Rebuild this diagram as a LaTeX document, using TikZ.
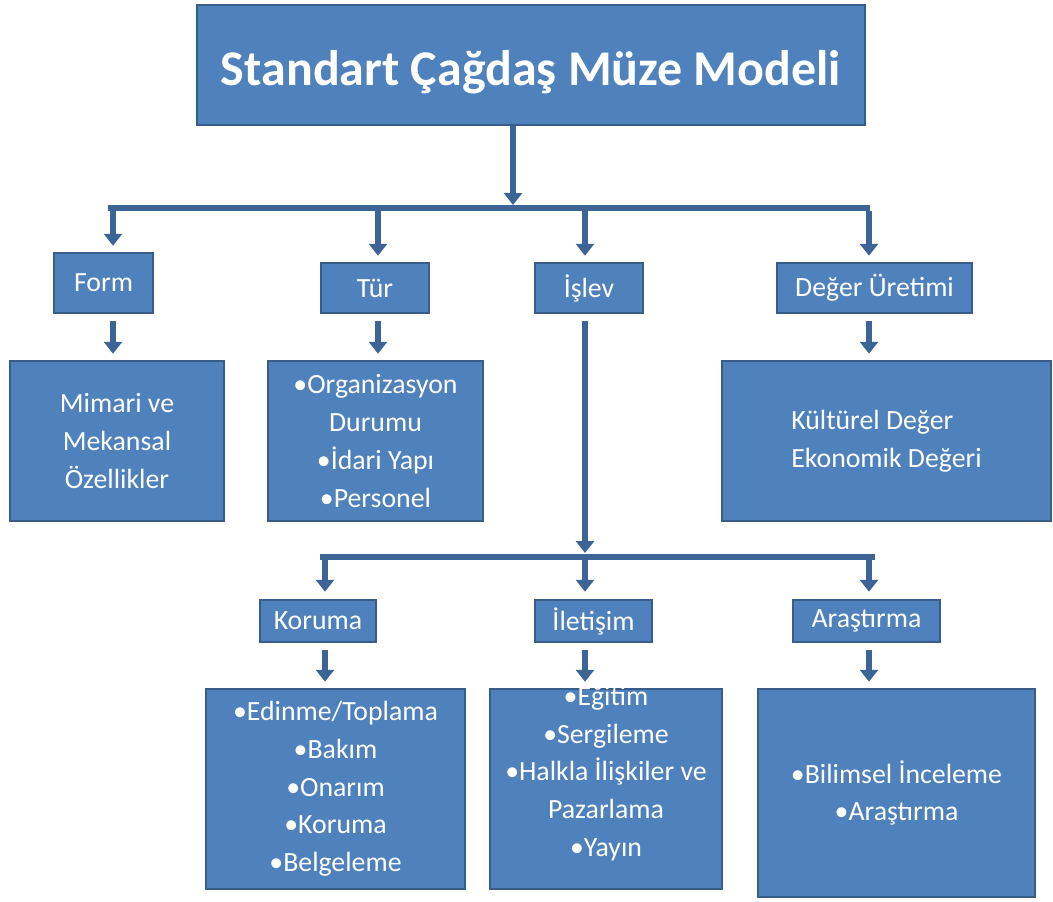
\documentclass[tikz,border=0pt]{standalone}
\usepackage{fontspec}
\setmainfont{Carlito}
\usetikzlibrary{arrows.meta,positioning}
\definecolor{boxfill}{HTML}{4F81BD}
\definecolor{boxline}{HTML}{385D8A}
\definecolor{arrline}{HTML}{3C6496}

\begin{document}
\begin{tikzpicture}[x=1pt,y=-1pt,
  box/.style={rectangle, draw=boxline, fill=boxfill, line width=2.5pt, text=white, inner sep=0pt,
    font=\fontsize{27.8}{37.7}\selectfont, align=center},
  boxtext/.style={text=white, inner sep=0pt, font=\fontsize{27.8}{37.7}\selectfont, align=center},
  arr/.style={draw=arrline, line width=6pt, -{Triangle[width=18pt,length=12pt]}},
  bar/.style={draw=arrline, line width=6pt}]

    \useasboundingbox (0,0) rectangle (1053,902);

    % boxes
    \node[box, minimum width=668pt, minimum height=120pt, text height=40pt, text depth=0pt,
        font=\fontsize{50}{60}\selectfont\bfseries] (title) at (531,65) {Standart Çağdaş Müze Modeli};

    \foreach \n/\x/\y/\w/\h/\t in {form/103.5/283/99/60/Form, tur/375/288/108/50/Tür, islev/589/288/108/50/İşlev,
        deger/874.5/288/195/50/Değer Üretimi, koruma/318/621/116/42/Koruma, iletisim/593.5/621/117/42/İletişim,
        arastirma/866.5/621/147/42/Araştırma}{
        \node[box, minimum width=\w pt, minimum height=\h pt] (\n) at (\x,\y) {\t};
    }

    \node[box, minimum width=214pt, minimum height=160pt] (mimari) at (117,441) {Mimari ve\\Mekansal\\Özellikler};
    \node[box, minimum width=215pt, minimum height=160pt] (org) at (375.5,441) {•Organizasyon\\Durumu\\•İdari Yapı\\•Personel};
    \node[box, minimum width=329pt, minimum height=160pt, align=left] (kultur) at (886.5,441) {Kültürel Değer\\Ekonomik Değeri};
    \node[box, minimum width=259pt, minimum height=200pt] (edinme) at (335.5,789) {•Edinme/Toplama\\•Bakım\\•Onarım\\•Koruma\\•Belgeleme};
    \node[box, minimum width=232pt, minimum height=200pt] (egitim) at (606,789) {};
    \node[boxtext] (egitimtext) at (606,773.5) {•Eğitim\\•Sergileme\\•Halkla İlişkiler ve\\Pazarlama\\•Yayın};
    \node[box, minimum width=277pt, minimum height=208pt] (bilimsel) at (896.5,793) {•Bilimsel İnceleme\\•Araştırma};

    % bars
    \coordinate (barA) at (108,208);
    \coordinate (barB) at (870,208);
    \coordinate (barC) at (320,557);
    \coordinate (barD) at (875,557);
    \draw[bar] (barA) -- (barB);
    \draw[bar] (barC) -- (barD);

    % arrows
    \draw[arr] (title.south -| 513,0) -- (513,205);
    \foreach \x/\d in {113/form, 378/tur, 585/islev, 869/deger}{
        \draw[arr, shorten >=6pt] (\x,211) -- (\d.north -| \x,0);
    }
    \foreach \x/\s/\d in {113/form/mimari, 378/tur/org, 869/deger/kultur, 325/koruma/edinme, 585/iletisim/egitim, 869/arastirma/bilimsel}{
        \draw[arr, shorten <=7pt, shorten >=6pt] (\s.south -| \x,0) -- (\d.north -| \x,0);
    }
    \draw[arr, shorten <=7pt] (islev.south -| 585,0) -- (585,553);
    \foreach \x/\d in {325/koruma, 585/iletisim, 869/arastirma}{
        \draw[arr, shorten >=7pt] (\x,560) -- (\d.north -| \x,0);
    }

\end{tikzpicture}
\end{document}
